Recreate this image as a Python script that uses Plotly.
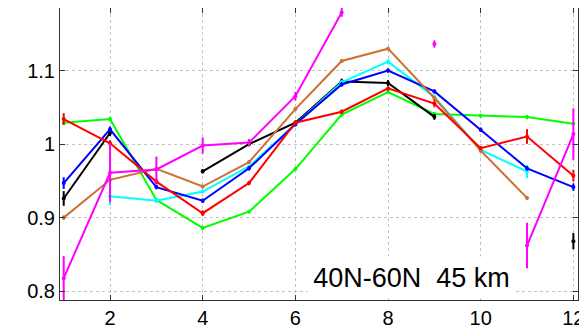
import plotly.graph_objects as go

months = list(range(1, 13))

black = [0.926, 1.015, None, 0.963, 1.000, 1.029, 1.085, 1.083, 1.037, None, None, 0.868]
black_err = [0.010, 0.004, 0, 0.003, 0.003, 0.003, 0.004, 0.004, 0.004, 0, 0, 0.011]

blue = [0.947, 1.020, 0.9415, 0.923, 0.967, 1.027, 1.081, 1.100, 1.0716, 1.0195, 0.967, 0.9415]
blue_err = [0.008, 0.004, 0.003, 0.003, 0.003, 0.003, 0.003, 0.003, 0.003, 0.003, 0.003, 0.005]

red = [1.034, 1.001, 0.949, 0.906, 0.947, 1.029, 1.044, 1.0757, 1.055, 0.9945, 1.0103, 0.957]
red_err = [0.008, 0.004, 0.004, 0.004, 0.003, 0.003, 0.003, 0.003, 0.005, 0.003, 0.010, 0.008]

green = [1.029, 1.034, 0.924, 0.886, 0.908, 0.966, 1.040, 1.0707, 1.041, 1.0385, 1.0367, 1.0276]
green_err = [0.003, 0.003, 0.002, 0.002, 0.002, 0.002, 0.002, 0.002, 0.002, 0.002, 0.003, 0.002]

cyan = [None, 0.929, 0.923, 0.9355, 0.9695, 1.027, 1.084, 1.112, 1.064, 0.992, 0.9627, None]
cyan_err = [0, 0.012, 0.003, 0.002, 0.002, 0.002, 0.003, 0.003, 0.003, 0.003, 0.009, 0]

orange = [0.900, 0.9514, 0.9664, 0.9423, 0.9755, 1.0476, 1.113, 1.1297, 1.0626, 0.991, 0.9268, None]
orange_err = [0.003, 0.002, 0.002, 0.002, 0.002, 0.002, 0.002, 0.002, 0.002, 0.002, 0.002, 0]

magenta = [0.8177, 0.961, 0.9655, 0.998, 1.002, 1.065, 1.179, None, 1.136, None, 0.862, 1.0136]
magenta_err = [0.030, 0.040, 0.0175, 0.011, 0.005, 0.006, 0.006, 0, 0.005, 0, 0.031, 0.035]

series = [
    ("green", green, green_err, "#00ff00"),
    ("black", black, black_err, "#000000"),
    ("cyan", cyan, cyan_err, "#00ffff"),
    ("blue", blue, blue_err, "#0000ff"),
    ("orange", orange, orange_err, "#cc7033"),
    ("red", red, red_err, "#ff0000"),
    ("magenta", magenta, magenta_err, "#ff00ff"),
]

x_ticks = [2, 4, 6, 8, 10, 12]
y_ticks = [0.8, 0.9, 1.0, 1.1]
y_tick_labels = ["0.8", "0.9", "1", "1.1"]
label_text = "40N-60N  45 km"

fig = go.Figure()
for name, vals, errs, col in series:
    fig.add_trace(go.Scatter(
        x=months, y=vals, name=name, mode="lines+markers",
        line=dict(color=col, width=2),
        marker=dict(color=col, size=4),
        error_y=dict(type="data", array=errs, visible=True, color=col, thickness=2, width=0),
        showlegend=False, cliponaxis=True,
    ))

axis_common = dict(
    showline=True, linecolor="#333333", linewidth=1, mirror="ticks",
    ticks="inside", ticklen=5, tickcolor="#333333", tickwidth=1,
    showgrid=True, gridcolor="#c4c4c4", gridwidth=1, griddash="dot",
    zeroline=False, automargin=False,
    tickfont=dict(family="Liberation Sans, Arial, sans-serif", size=20, color="black"),
)

fig.update_xaxes(range=[0.92, 12.1], tickvals=x_ticks, **axis_common)
fig.update_yaxes(range=[0.788, 1.185], tickvals=y_ticks, ticktext=y_tick_labels, **axis_common)

fig.add_annotation(
    xref="paper", yref="paper", x=0.679, y=0.0, xanchor="center", yanchor="bottom",
    text=label_text, showarrow=False, bgcolor="white", width=207, height=42,
    borderpad=0, font=dict(family="Liberation Sans, Arial, sans-serif", size=27, color="black"),
)

# page body adds an 8px offset; compensate in figure size/margins
fig.update_layout(
    width=579, height=323,
    margin=dict(l=52, r=9, t=0, b=31),
    paper_bgcolor="white", plot_bgcolor="white",
)

fig.write_html("out.html")
